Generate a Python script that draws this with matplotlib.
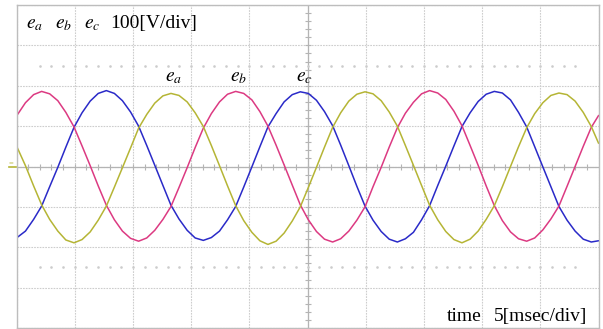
import numpy as np
import matplotlib
matplotlib.use('Agg')
import matplotlib.pyplot as plt

plt.rcParams['font.family'] = ['Liberation Serif', 'DejaVu Serif']
plt.rcParams['mathtext.fontset'] = 'stix'

# Sample times [ms]
t = [-25.0,
     -24.23, -23.53, -22.84, -22.15, -21.45, -20.76, -20.06, -19.37, -18.67, -17.98,
     -17.28, -16.59, -15.90, -15.20, -14.51, -13.81, -13.12, -12.42, -11.73, -11.04,
     -10.34, -9.65, -8.95, -8.26, -7.56, -6.87, -6.17, -5.48, -4.78, -4.09,
     -3.40, -2.70, -2.01, -1.31, -0.62, 0.07, 0.77, 1.46, 2.16, 2.85,
     3.55, 4.24, 4.94, 5.63, 6.33, 7.02, 7.72, 8.41, 9.10, 9.80,
     10.49, 11.19, 11.88, 12.58, 13.27, 13.97, 14.66, 15.35, 16.05, 16.74,
     17.44, 18.13, 18.83, 19.52, 20.22, 20.91, 21.60, 22.30, 22.99, 23.69,
     24.38, 25.0]

# Phase voltages [V]
e_a = [51,
       2, -48, -95, -131, -160, -182, -189, -181, -162, -133,
       -98, -51, -3, 46, 95, 129, 157, 175, 181, 176,
       160, 133, 99, 52, 2, -48, -97, -134, -163, -184,
       -193, -185, -165, -135, -100, -52, -2, 48, 97, 133,
       162, 179, 185, 180, 163, 135, 100, 52, 3, -47,
       -96, -132, -161, -181, -189, -180, -160, -131, -97, -50,
       0, 49, 96, 131, 158, 176, 182, 178, 162, 134,
       99, 58]
e_b = [125,
       158, 178, 186, 180, 163, 134, 98, 51, 2, -48,
       -96, -132, -160, -178, -185, -177, -158, -131, -99, -52,
       -3, 47, 95, 131, 160, 179, 186, 181, 165, 136,
       100, 53, 4, -46, -95, -132, -161, -180, -187, -179,
       -160, -133, -100, -50, -2, 48, 96, 132, 159, 180,
       188, 182, 166, 137, 101, 52, 3, -48, -97, -134,
       -162, -179, -185, -177, -157, -130, -98, -49, 0, 50,
       97, 126]
e_c = [-177,
       -160, -131, -98, -50, -2, 48, 97, 133, 162, 181,
       188, 181, 163, 135, 100, 52, 3, -47, -96, -130,
       -158, -177, -183, -176, -160, -132, -99, -51, -1, 49,
       98, 131, 160, 178, 185, 181, 164, 136, 101, 53,
       2, -49, -98, -133, -161, -180, -187, -179, -163, -132,
       -97, -47, 1, 51, 99, 133, 161, 179, 186, 182,
       165, 134, 98, 49, -1, -50, -99, -133, -160, -180,
       -187, -184]

col_a = '#b5b535'
col_b = '#dc3a82'
col_c = '#2a2ac8'

W, H = 603, 329
fig = plt.figure(figsize=(W / 100, H / 100), dpi=100)
ax = fig.add_axes([16.5 / W, 1 / H, 582 / W, 323 / H])

ax.set_xlim(-25, 25)
ax.set_ylim(-400, 400)
ax.set_xticks(np.arange(-25, 26, 5))
ax.set_yticks(np.arange(-400, 401, 100))
ax.tick_params(length=0, labelbottom=False, labelleft=False)
ax.grid(True, color='#cdcdcd', linestyle=(0, (1.5, 1)), linewidth=0.8)
for s in ax.spines.values():
    s.set_color('#bdbdbd')
    s.set_linewidth(1.0)

# centre lines with small division marks
ax.axhline(0, color='#b4b4b4', lw=0.9)
ax.axvline(0, color='#b4b4b4', lw=0.9)
xm = np.arange(-24, 25, 1)
ax.plot(xm, np.zeros_like(xm), ls='none', marker='|', ms=4, color='#b4b4b4', mew=0.8)
ym = np.arange(-380, 381, 20)
ax.plot(np.zeros_like(ym), ym, ls='none', marker='_', ms=4, color='#b4b4b4', mew=0.8)

# dotted level lines
xd = np.arange(-23, 24, 1)
for lvl in (250, -250):
    ax.plot(xd, np.full(len(xd), lvl), ls='none', marker='s', ms=0.8, color='#cccccc')

ax.plot(t, e_c, color=col_c, lw=1.1)
ax.plot(t, e_b, color=col_b, lw=1.1)
ax.plot(t, e_a, color=col_a, lw=1.1)

# channel marker on the left
fig.add_artist(plt.Line2D([9 / W, 16 / W], [1 - 167 / H, 1 - 167 / H], color=col_a, lw=1.2))
fig.text(9 / W, 1 - 165 / H, '=', color=col_a, fontsize=6, va='baseline')

fs = 14
fig.text(26 / W, 1 - 28 / H, r'$e_a$', fontsize=fs, va='baseline')
fig.text(55 / W, 1 - 28 / H, r'$e_b$', fontsize=fs, va='baseline')
fig.text(84 / W, 1 - 28 / H, r'$e_c$', fontsize=fs, va='baseline')
fig.text(110 / W, 1 - 28 / H, '100[V/div]', fontsize=fs, va='baseline')

fig.text(165 / W, 1 - 81 / H, r'$e_a$', fontsize=fs, va='baseline')
fig.text(230 / W, 1 - 81 / H, r'$e_b$', fontsize=fs, va='baseline')
fig.text(296 / W, 1 - 81 / H, r'$e_c$', fontsize=fs, va='baseline')

fig.text(447 / W, 1 - 321 / H, 'time', fontsize=fs, va='baseline')
fig.text(494 / W, 1 - 321 / H, '5[msec/div]', fontsize=fs, va='baseline')

fig.savefig('out.png', dpi=100)
